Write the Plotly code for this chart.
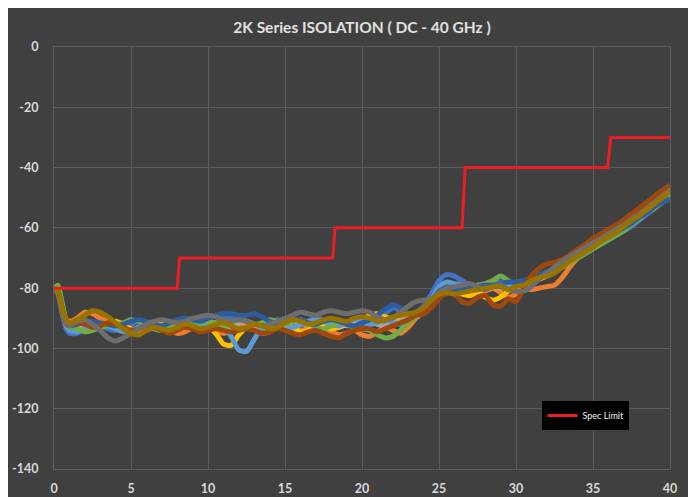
import plotly.graph_objects as go

FREQ = [0, 0.25, 0.5, 0.75, 1,
        1.5, 2, 2.5, 3, 3.5, 4, 4.5, 5, 5.5, 6, 6.5, 7, 7.5, 8, 8.5, 9, 9.5, 10,
        10.5, 11, 11.5, 12, 12.5, 13, 13.5, 14, 14.5, 15, 15.5, 16, 16.5, 17, 17.5, 18, 18.5, 19, 19.5, 20,
        20.5, 21, 21.5, 22, 22.5, 23, 23.5, 24, 24.5, 25, 25.5, 26, 26.5, 27, 27.5, 28, 28.5, 29, 29.5, 30,
        30.5, 31, 31.5, 32, 32.5, 33, 33.5, 34, 34.5, 35, 35.5, 36, 36.5, 37, 37.5, 38, 38.5, 39, 39.5, 40]

S1 = [-80, -81, -87, -93, -95,
      -95, -93, -91.5, -92, -93.5, -94, -93, -92, -91, -91.5, -93, -94, -92.5, -91, -90, -90.5, -92, -93,
      -91.5, -90, -89.5, -90.5, -92, -93.5, -93, -91.5, -90.5, -91.5, -93, -92.5, -91, -90, -90.5, -92, -93, -92, -90.5, -91.5,
      -92, -90.5, -88.5, -86.5, -87.5, -89, -88, -86, -82, -77.5, -75.5, -76, -77.5, -79, -80, -79.5, -78.5, -78, -78.5, -78,
      -77.5, -77, -76.5, -75.5, -74.5, -73, -71.5, -70, -68.5, -67, -65.5, -64, -62.5, -61, -59.5, -57.5, -55.5, -53.5, -51.5, -50]
S2 = [-80, -80.5, -85, -90, -91,
      -90, -88, -88.5, -90, -91, -92.5, -93, -94, -95, -94, -93, -92.5, -93.5, -95, -94.5, -93, -92, -93,
      -94, -95, -94, -93, -92.5, -93.5, -95, -94.5, -93, -92, -93, -94, -93.5, -92.5, -93, -94.5, -95.5, -95, -94, -95.5,
      -96, -94.5, -93, -94, -95, -93, -90, -88, -86, -83, -81.5, -80, -79, -80.5, -82, -81, -80, -81.5, -83, -82,
      -80, -80.5, -80, -79.5, -79, -76.5, -73, -70, -67.5, -65.5, -63.5, -61.5, -59.5, -57.5, -55.5, -54, -52, -50, -48, -46.5]
S3 = [-80, -81, -86, -91, -93,
      -93.5, -93, -92, -91.5, -92, -92.5, -93.5, -94, -93, -92, -91.5, -92, -93, -93.5, -92.5, -91.5, -91, -92,
      -93, -93.5, -92.5, -91.5, -91, -92, -93, -93.5, -92.5, -91.5, -91, -91.5, -92.5, -93, -92, -91, -91.5, -92.5, -92, -91,
      -91, -92, -92.5, -91.5, -90, -89, -88.5, -88, -85.5, -82, -80.5, -80, -80.5, -81.5, -81, -80, -79.5, -80, -79.5, -78.5,
      -78, -77, -76, -75, -73.5, -72, -70.5, -68.5, -67, -65.5, -64, -62.5, -61, -59, -57, -55.5, -53.5, -52, -50, -48.5]
S4 = [-80, -81, -86, -91, -93,
      -92.5, -91.5, -92, -93, -92, -91, -92, -93.5, -94, -93, -92, -91.5, -92.5, -93.5, -93, -92, -91.5, -92.5,
      -95, -98.5, -99, -95.5, -93, -92, -92.5, -93.5, -93, -92, -93, -94.5, -94, -93, -92.5, -93.5, -93, -92, -91, -90.5,
      -89, -88.5, -89.5, -90, -89, -88.5, -89, -88, -85, -82, -80.5, -81, -82, -82.5, -81.5, -83, -84, -83, -81, -80,
      -79, -78, -77, -76, -74.5, -73, -71.5, -69.5, -67.5, -65.5, -64, -62.5, -61, -59, -57.5, -55.5, -53.5, -51.5, -50, -48]
S5 = [-80, -81, -86.5, -92, -94,
      -94.5, -93.5, -92.5, -92, -92.5, -93.5, -94.5, -94, -93, -92, -92.5, -93, -92, -91.5, -92, -93, -92.5, -91.5,
      -92, -93, -96, -100.5, -101, -97, -93, -92, -91.5, -92.5, -93, -92, -91, -90.5, -91, -92, -92.5, -91.5, -90.5, -91,
      -92, -91.5, -90.5, -91.5, -92, -90.5, -88.5, -87.5, -84, -79.5, -78, -78.5, -79, -80, -80.5, -79.5, -79, -78.5, -79, -79,
      -78.5, -77.5, -76.5, -75.5, -74, -72.5, -71, -69.5, -68, -66.5, -65, -63.5, -62, -60.5, -58.5, -57, -55, -53, -51.5, -50]
S6 = [-80, -79, -84, -90, -93,
      -93.5, -94.5, -94, -93, -92.5, -92, -91.5, -90.5, -91, -92, -93.5, -94, -92.5, -91, -91, -92, -91.5, -91,
      -91.5, -92.5, -91.5, -90.5, -91, -92, -91.5, -90.5, -91, -92, -91, -90.5, -91.5, -93, -93.5, -92.5, -91.5, -92, -93, -93.5,
      -94, -95.5, -96.5, -96, -94, -91.5, -89.5, -88, -86, -82, -80.5, -80, -79.5, -80, -79, -78.5, -77.5, -76, -77.5, -79,
      -78.5, -77.5, -76.5, -75.5, -74.5, -73, -71.5, -70, -68.5, -67, -65.5, -64, -62.5, -61, -59, -57, -55, -53.5, -51.5, -49.5]
S7 = [-80, -81, -86, -91, -92.5,
      -92, -91.5, -91, -91.5, -92, -92.5, -92, -91, -90.5, -91, -92, -92.5, -91.5, -90.5, -90, -90.5, -91, -90,
      -89, -88.5, -88.5, -89, -89, -88.5, -89.5, -91, -92, -91, -90, -90.5, -91.5, -92, -91, -90.5, -91, -92, -92.5, -91.5,
      -90.5, -89, -87, -85.5, -86.5, -88.5, -88, -87, -84.5, -81, -80, -80.5, -80.5, -80, -79.5, -79, -79, -78.5, -78, -78,
      -77.5, -76.5, -75.5, -74.5, -73.5, -72, -70.5, -69, -67.5, -66, -64.5, -63, -61.5, -60, -58.5, -56.5, -55, -53, -51.5, -50.5]
S8 = [-80, -81, -86, -91, -92,
      -91.5, -92, -93, -92.5, -91.5, -92, -93, -94, -93.5, -92.5, -93, -94, -95, -94, -93, -93.5, -94.5, -94,
      -93.5, -94, -94.5, -94, -93.5, -94, -95, -94.5, -93.5, -94, -95, -95.5, -94.5, -94, -95, -96, -96.5, -95, -94, -93.5,
      -93.5, -94.5, -93.5, -92.5, -91.5, -90.5, -89, -88.5, -86.5, -83.5, -81.5, -82, -84.5, -85, -83, -82.5, -85.5, -86, -83.5, -84.5,
      -80, -76, -73.5, -72, -71.5, -70.5, -69, -67, -65.5, -63.5, -62, -60.5, -59, -57.5, -55.5, -53.5, -51.5, -49.5, -47.5, -45.8]
S9 = [-80, -82, -88, -92, -92.5,
      -91, -90.5, -92, -94, -96.5, -97.5, -96.5, -95, -93.5, -92, -91, -90.5, -91, -91.5, -91, -90, -89.5, -89,
      -89.5, -90.5, -91, -90.5, -91, -92, -92.5, -92, -91, -90, -89, -88, -88.5, -89, -88, -87.5, -88, -88.5, -88, -87.5,
      -88, -89.5, -90.5, -90, -88, -86, -84.5, -84, -83.5, -81.5, -80, -79.5, -79, -78.5, -79.5, -80.5, -79.5, -79, -80.5, -81,
      -81, -79.5, -77, -75, -73, -71, -69.5, -68, -66.5, -65, -63.5, -62, -60.5, -59, -57, -55.5, -53.5, -51.5, -49.5, -47.5]
S10 = [-80, -81, -86, -90, -91.5,
       -90.5, -89, -87.5, -88, -89.5, -91.5, -93.5, -95, -95.5, -94, -93, -93.5, -94, -93, -92, -92.5, -93.5, -93,
       -92, -91.5, -92.5, -93.5, -93, -92, -92.5, -93.5, -93, -91.5, -90.5, -91, -92, -91.5, -90.5, -90, -90.5, -91, -90, -89.5,
       -90, -91, -90.5, -89.5, -89, -88.5, -88, -86.5, -84, -82, -81.5, -82, -81.5, -81, -80.5, -80, -79.5, -79.5, -80.5, -79.5,
       -79, -77.5, -76.5, -76, -75, -73, -71, -69.5, -68, -66.5, -64.5, -63, -61.5, -59.5, -57.5, -56, -54, -52, -50, -48]

SERIES = [S1, S2, S3, S4, S5, S6, S7, S8, S9, S10]
COLORS = ["#4472C4", "#ED7D31", "#A5A5A5", "#FFC000", "#5B9BD5",
          "#70AD47", "#2E5C9E", "#9E480E", "#6E6E6E", "#997300"]

SPEC_X = [0, 8.0, 8.15, 18.1, 18.25, 26.5, 26.7, 35.95, 36.15, 40]
SPEC_Y = [-80, -80, -70, -70, -60, -60, -40, -40, -30, -30]

X_TICKS = [0, 5, 10, 15, 20, 25, 30, 35, 40]
Y_TICKS = [0, -20, -40, -60, -80, -100, -120, -140]

for s in SERIES:
    assert len(s) == len(FREQ), len(s)

FONT = "Lato, Liberation Sans, sans-serif"
BG = "#404040"
GRID = "#5c5c5c"

fig = go.Figure()
for s, c in zip(SERIES, COLORS):
    fig.add_trace(go.Scatter(x=FREQ, y=s, mode="lines", showlegend=False,
                             line=dict(color=c, width=5, shape="spline", smoothing=0.7),
                             hoverinfo="skip"))
fig.add_trace(go.Scatter(x=SPEC_X, y=SPEC_Y, mode="lines", name="Spec Limit",
                         line=dict(color="#ee1c24", width=3)))

fig.update_layout(
    width=680, height=489,
    margin=dict(l=46, r=18, t=39, b=28, autoexpand=False),
    paper_bgcolor=BG, plot_bgcolor=BG,
    title=dict(text="<b>2K Series ISOLATION ( DC - 40 GHz )</b>", x=0.5, xref="paper",
               xanchor="center", y=1 - 20 / 489, yanchor="middle",
               font=dict(family=FONT, size=15.5, color="#e0e0e0")),
    font=dict(family=FONT, color="#d9d9d9"),
    legend=dict(x=0.793, y=0.161, xanchor="left", yanchor="top", bgcolor="#000000",
                font=dict(family=FONT, size=9, color="#f2f2f2"),
                itemwidth=30, tracegroupgap=0),
)
fig.update_xaxes(range=[0, 40], tickvals=X_TICKS, ticktext=[f"<b>{v}</b>" for v in X_TICKS],
                 showgrid=True, gridcolor=GRID, gridwidth=1, zeroline=False, automargin=False,
                 showline=True, linecolor=GRID, mirror=True, ticks="",
                 tickfont=dict(family=FONT, size=12.5, color="#d9d9d9"), ticklabelstandoff=8)
fig.update_yaxes(range=[-140, 0], tickvals=Y_TICKS, ticktext=[f"<b>{v}</b>" for v in Y_TICKS],
                 showgrid=True, gridcolor=GRID, gridwidth=1, zeroline=False, automargin=False,
                 showline=True, linecolor=GRID, mirror=True, ticks="",
                 tickfont=dict(family=FONT, size=12.5, color="#d9d9d9"), ticklabelstandoff=12)

fig.write_html("out.html")
